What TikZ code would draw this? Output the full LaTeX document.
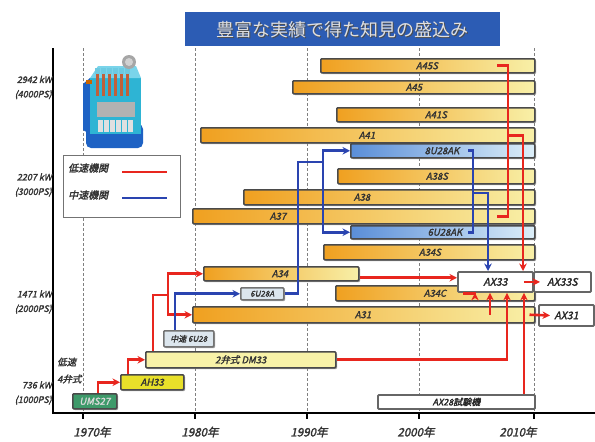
\documentclass[tikz,border=0pt]{standalone}
\usepackage{fontspec}
\setmainfont{Noto Sans CJK JP}[
  ItalicFont=Noto Sans CJK JP, ItalicFeatures={FakeSlant=0.22},
  BoldFont=Noto Sans CJK JP, BoldFeatures={FakeBold=2},
  BoldItalicFont=Noto Sans CJK JP, BoldItalicFeatures={FakeSlant=0.22,FakeBold=2}]
\usetikzlibrary{calc,shadows,arrows.meta}

\definecolor{barorange}{HTML}{F0A020}
\definecolor{baryellow}{HTML}{F8F0A8}
\definecolor{barblue}{HTML}{5A8ED8}
\definecolor{barsky}{HTML}{DCEEF8}
\definecolor{dmyellow}{HTML}{F8F2A8}
\definecolor{ahyellow}{HTML}{E8E02A}
\definecolor{umgreen}{HTML}{3E9A6A}
\definecolor{boxgray}{HTML}{DCE6EE}
\definecolor{lowred}{HTML}{E8261E}
\definecolor{midblue}{HTML}{2A44B0}
\definecolor{titleblue}{HTML}{2C5CB4}
\definecolor{edge}{HTML}{4A4A4A}
\definecolor{engcyan}{HTML}{2EB4D4}
\definecolor{engtop}{HTML}{7AD4EA}
\definecolor{engdark}{HTML}{1E62C4}
\definecolor{engrod}{HTML}{C0603A}

\begin{document}
\begin{tikzpicture}
 [
  x=1pt, y=-1pt,
  >={Stealth[length=7.5pt,width=7.5pt]},
  tag/.style    = {font=\fontsize{9.5}{9.5}\selectfont\bfseries\itshape, text=black!80, inner sep=0pt},
  bar/.style    = {draw=edge, line width=1.5pt, rounded corners=1pt, anchor=north west, inner sep=0pt,
                   font=\fontsize{9.5}{9.5}\selectfont\bfseries\itshape, text=black!80,
                   drop shadow={shadow xshift=1.3pt, shadow yshift=-1.3pt, fill=black!45, opacity=.8}},
  lowbar/.style = {bar, left color=barorange, right color=baryellow},
  midbar/.style = {bar, left color=barblue, right color=barsky},
  small/.style  = {bar, fill=boxgray, draw=black!55, font=\fontsize{8}{8}\selectfont\bfseries\itshape},
  axbox/.style  = {draw=black!60, line width=1.9pt, fill=white, anchor=north west, inner sep=0pt,
                   rounded corners=1pt, font=\fontsize{10.5}{10.5}\selectfont\bfseries\itshape, text=black!85},
  low/.style    = {lowred, line width=2.6pt},
  mid/.style    = {midblue, line width=2.6pt},
 ]
 \useasboundingbox (0,0) rectangle (595,442);

 % title
 \node[fill=titleblue, minimum width=315pt, minimum height=34pt, anchor=north west] (title) at (185,12) {};
 \node[text=black!70, font=\fontsize{18}{18}\selectfont] at ([xshift=1pt,yshift=-1pt]title.center) {豊富な実績で得た知見の盛込み};
 \node[text=white!88!black, font=\fontsize{18}{18}\selectfont] at (title.center) {豊富な実績で得た知見の盛込み};

 % axes and year grid
 \coordinate (ytop) at (53,48);
 \coordinate (origin) at (53,413);
 \coordinate (xend) at (595,413);
 \foreach \yr/\x/\lx in {1970/83/92, 1980/195/200, 1990/307/309, 2000/419/416, 2010/534/518}
 {
  \draw[black!50, line width=.9pt, dash pattern=on 3pt off 2pt] (\x,48) -- (\x,413);
  \draw[line width=1.8pt] (\x,413) -- (\x,419);
  \node[font=\fontsize{11.5}{12}\selectfont\bfseries\itshape, text=black!80] (y\yr) at (\lx,432) {\yr 年};
 }
 \draw[line width=1.8pt] (ytop) -- (origin) -- (xend);

 % power levels
 \foreach \ya/\kw/\ps in {87.5/2942 kW/4000PS, 185/2207 kW/3000PS, 302/1471 kW/2000PS, 393/736 kW/1000PS}
  \node[anchor=east, align=right, inner sep=0pt, text=black!80,
        font=\fontsize{9}{14.5}\selectfont\bfseries\itshape] at (52,\ya) {\kw\\(\ps)};
 \node[anchor=west, inner sep=0pt, font=\fontsize{9.5}{9.5}\selectfont\bfseries\itshape, text=black!80] (lowtag) at (57,362) {低速};
 \node[anchor=west, inner sep=0pt, font=\fontsize{9.5}{9.5}\selectfont\bfseries\itshape, text=black!80] (valvetag) at (57,379) {4弁式};

 % engine
 \fill[engdark, rounded corners=5pt] (86,124) rectangle (143,148);
 \fill[engdark] (83,84) -- (90,78) -- (90,134) -- (83,130) -- cycle;
 \fill[engcyan] (90,78) rectangle (141,134);
 \fill[engtop] (90,78) -- (98,66) -- (136,66) -- (141,78) -- cycle;
 \foreach \i in {0,...,5}
 {
  \fill[engrod] (96+6*\i,74) rectangle (99+6*\i,96);
  \fill[engcyan!70!white] (95+6*\i,68) rectangle (100+6*\i,74);
  \fill[black!12] (98+6*\i,120) rectangle (102.5+6*\i,132);
 }
 \fill[black!30] (97,102) rectangle (135,117);
 \fill[black!35] (129,62) circle (7);
 \fill[black!18] (129,62) circle (4);
 \fill[orange!80!black] (86,80) rectangle (92,84);

 % legend
 \node[draw=black!55, line width=1pt, fill=white, minimum width=117pt, minimum height=62pt,
       anchor=north west] (legend) at (63,155) {};
 \node[font=\fontsize{10}{10}\selectfont\bfseries\itshape, text=black!80, anchor=west, inner sep=0pt] (lowkey) at (68,168) {低速機関};
 \node[font=\fontsize{10}{10}\selectfont\bfseries\itshape, text=black!80, anchor=west, inner sep=0pt] (midkey) at (68,195) {中速機関};
 \draw[low] ([xshift=14pt,yshift=-4pt]lowkey.east) -- ++(45,0);
 \draw[mid] ([xshift=14pt,yshift=-3pt]midkey.east) -- ++(45,0);

 % engine series bars
 \foreach \nm/\xa/\xb/\ya/\yb/\lx/\txt/\kind in {
   a45s/320/534/58/72/427/A45S/lowbar,
   a45/292/534/80/93/414/A45/lowbar,
   a41s/336/534/107/121/436/A41S/lowbar,
   a41/200/534/127/142/367/A41/lowbar,
   u8ak/350/534/143/157/442/8U28AK/midbar,
   a38s/337/534/168/183/437/A38S/lowbar,
   a38/243/534/189/204/362/A38/lowbar,
   a37/192/534/208/223/278/A37/lowbar,
   u6ak/350/534/225/238/445/6U28AK/midbar,
   a34s/323/534/244/259/430/A34S/lowbar,
   a34/203/358/266/280/280/A34/lowbar,
   a34c/335/534/285/300/435/A34C/lowbar,
   a31/192/534/306/322/363/A31/lowbar}
 {
  \node[\kind, minimum width={(\xb-\xa)*1pt}, minimum height={(\yb-\ya)*1pt}] (\nm) at (\xa,\ya) {};
  \node[tag] (\nm-t) at (\lx,0 |- \nm.center) {\txt};
 }

 \node[bar, fill=dmyellow, minimum width=190pt, minimum height=16pt] (dm33) at (145,351) {2弁式 DM33};
 \node[bar, fill=ahyellow, minimum width=63pt, minimum height=15pt] (ah33) at (120,374) {AH33};
 \node[bar, fill=umgreen, text=white!85!black, minimum width=44pt, minimum height=15pt] (ums27) at (72,393) {UMS27};
 \node[small, minimum width=43pt, minimum height=12pt] (u6a) at (240,287) {6U28A};
 \node[small, minimum width=50pt, minimum height=16pt] (u6) at (163,330) {中速 6U28};

 % new models
 \node[axbox, minimum width=75pt, minimum height=20pt] (ax33) at (457,271) {AX33};
 \node[axbox, minimum width=57pt, minimum height=20pt] (ax33s) at (533,271) {AX33S};
 \node[axbox, minimum width=55pt, minimum height=21pt] (ax31) at (538,304) {AX31};
 \node[axbox, minimum width=157pt, minimum height=14pt, font=\fontsize{9}{9}\selectfont\bfseries\itshape] (ax28) at (377,394) {AX28試験機};

 % low speed lineage
 \coordinate (dmsplit) at (168,295);
 \coordinate (amerge) at (508,0 |- a41);
 \draw[low, ->] (98,0 |- ums27.north) |- (ah33.west);
 \draw[low, ->] (128,0 |- ah33.north) |- (dm33.west);
 \draw[low] (153,0 |- dm33.north) |- (dmsplit);
 \draw[low, ->] (dmsplit) |- (a34.west);
 \draw[low, ->] (dmsplit) |- (a31.west);
 \draw[low, ->] ([yshift=-4pt]a34.east) -- ([yshift=-4pt]a34.east -| ax33.west);
 \draw[low, ->] (463,0 |- a34c) -| (475,0 |- ax33.south);
 \draw[low, ->] (490,0 |- a31) -- (490,0 |- ax33.south);
 \draw[low, ->] (dm33.east) -| (507,0 |- ax33.south);
 \draw[low, ->] (524,0 |- ax28.north) -- (524,0 |- ax33.south);
 \draw[low, ->] ([xshift=-6pt]a31.east) -- ([xshift=12pt]ax31.west);
 \draw[low, ->] ([xshift=-10pt]ax33.east) -- ([xshift=7pt]ax33s.west);
 \draw[low] (497,0 |- a45s) -| (508,0 |- a37) -- (497,0 |- a37);
 \draw[low, ->] (amerge) -| (523,0 |- ax33.north);

 % medium speed lineage
 \coordinate (usplit) at (323,162);
 \coordinate (umerge) at (473,193);
 \draw[mid, ->] (175,0 |- u6.north) |- (u6a.west);
 \draw[mid] (u6a.east) -| ([xshift=-25pt]usplit) -- (usplit);
 \draw[mid, ->] (usplit) |- (u8ak.west);
 \draw[mid, ->] (usplit) |- (u6ak.west);
 \draw[mid] (468,0 |- u8ak) -| (473,0 |- u6ak) -- (468,0 |- u6ak);
 \draw[mid, ->] (umerge) -| (488,0 |- ax33.north);
\end{tikzpicture}
\end{document}
